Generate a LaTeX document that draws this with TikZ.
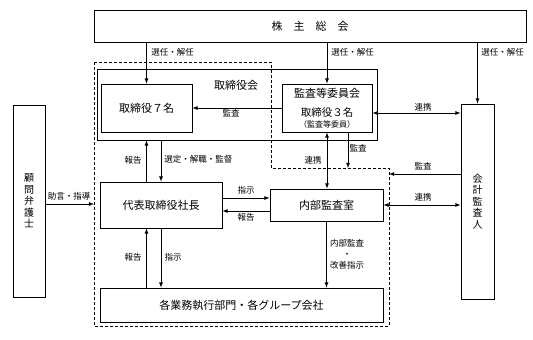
\documentclass[tikz,border=0pt]{standalone}
\usepackage{fontspec}
\setmainfont{Noto Sans CJK JP}
\begin{document}
\begin{tikzpicture}[x=1pt,y=-1pt,line width=0.8pt,
        box/.style={draw,rectangle,inner sep=0pt,font=\fontsize{11}{13}\selectfont},
        vbox/.style={box,align=center,font=\fontsize{10}{11.5}\selectfont},
        lbl/.style={inner sep=0pt,font=\fontsize{8.5}{10}\selectfont}]
        \useasboundingbox (0,0) rectangle (533,340);
        % area tratteggiata
        \coordinate (d1) at (94,62);
        \coordinate (d2) at (271,62);
        \coordinate (d3) at (271,168);
        \coordinate (d4) at (389,168);
        \coordinate (d5) at (389,326);
        \coordinate (d6) at (94,326);
        \draw[dash pattern=on 3pt off 2pt] (d1)--(d2)--(d3)--(d4)--(d5)--(d6)--cycle;
        \coordinate (advend) at (94,204);
        \coordinate (audend) at (348,168);
        \coordinate (kaend) at (389,174);

        % nodi
        \node[box,minimum width=432pt,minimum height=32pt] (somu) at (310,26) {株　主　総　会};
        \node[box,minimum width=280pt,minimum height=71pt] (board) at (237,104.5) {};
        \node[lbl,font=\fontsize{11}{13}\selectfont] (boardlbl) at (236,85) {取締役会};
        \node[box,fill=white,minimum width=91pt,minimum height=48pt] (dir7) at (146.5,108) {取締役７名};
        \node[box,fill=white,minimum width=90pt,minimum height=48pt,align=center] (committee) at (327,108)
            {監査等委員会\\[6pt]{\fontsize{10.5}{12}\selectfont 取締役３名}\\[-2pt]{\fontsize{8}{9}\selectfont （監査等委員）}};
        \node[vbox,minimum width=33pt,minimum height=195pt] (kaikei) at (477.5,201.5) {会\\計\\監\\査\\人};
        \node[vbox,minimum width=32pt,minimum height=192pt] (komon) at (29,201) {顧\\問\\弁\\護\\士};
        \node[box,minimum width=122pt,minimum height=46pt] (ceo) at (161,205) {代表取締役社長};
        \node[box,minimum width=113pt,minimum height=32pt] (naibu) at (326.5,205) {内部監査室};
        \node[box,minimum width=283pt,minimum height=34pt] (gyomu) at (241.5,305) {各業務執行部門・各グループ会社};

        % frecce dal 株主総会
        \draw[-latex] (somu.south -| dir7)--(dir7.north);
        \draw[-latex] (somu.south -| committee)--(committee.north);
        \draw[-latex] (somu.south -| kaikei)--(kaikei.north);
        \node[lbl,anchor=west] (sel1) at (151,52) {選任・解任};
        \node[lbl,anchor=west] (sel2) at (331,52) {選任・解任};
        \node[lbl,anchor=west] (sel3) at (481,52) {選任・解任};

        % 監査等委員会
        \draw[-latex] (committee.west |- dir7)--(dir7.east);
        \node[lbl] (aud1) at (231,113) {監査};
        \draw[latex-latex] ([yshift=-5pt]committee.east)--([yshift=-5pt]committee.east -| kaikei.west);
        \node[lbl] (ren1) at (423,107) {連携};
        \draw[latex-latex] (committee.south)--(committee.south |- naibu.north);
        \node[lbl] (ren2) at (313,160) {連携};
        \draw[-latex] (committee.south -| audend)--(audend);
        \node[lbl] (aud2) at (358,148) {監査};

        % 取締役会 - 代表取締役社長
        \draw[-latex] (ceo.north -| dir7)--(board.south -| dir7);
        \node[lbl] (rep1) at (133,160) {報告};
        \draw[-latex] (board.south -| ceo)--(ceo.north);
        \node[lbl,anchor=west] (sen) at (164,159) {選定・解職・監督};

        % 代表取締役社長 - 内部監査室
        \draw[-latex] ([yshift=7pt]ceo.east)--([yshift=7pt]naibu.west);
        \node[lbl] (ins1) at (246,190) {指示};
        \draw[-latex] ([yshift=-6pt]naibu.west)--([yshift=-6pt]ceo.east);
        \node[lbl] (rep2) at (246,217) {報告};

        % 代表取締役社長 - 各業務執行部門
        \draw[-latex] (gyomu.north -| dir7)--(ceo.south -| dir7);
        \node[lbl] (rep3) at (133,257) {報告};
        \draw[-latex] (ceo.south)--(ceo.south |- gyomu.north);
        \node[lbl] (ins2) at (173,257) {指示};

        % 内部監査室
        \draw[-latex] (naibu.south)--(naibu.south |- gyomu.north);
        \node[lbl,align=center,font=\fontsize{8.5}{11}\selectfont] (naiaud) at (347,254) {内部監査\\・\\改善指示};
        \draw[latex-latex] (naibu.east)--(naibu.east -| kaikei.west);
        \node[lbl] (ren3) at (423,197) {連携};
        \draw[-latex] (kaikei.west |- kaend)--(kaend);
        \node[lbl] (aud3) at (423,166) {監査};

        % 顧問弁護士
        \draw[-latex] (komon.east |- advend)--(advend);
        \node[lbl] (adv) at (69,196) {助言・指導};
    \end{tikzpicture}
\end{document}
